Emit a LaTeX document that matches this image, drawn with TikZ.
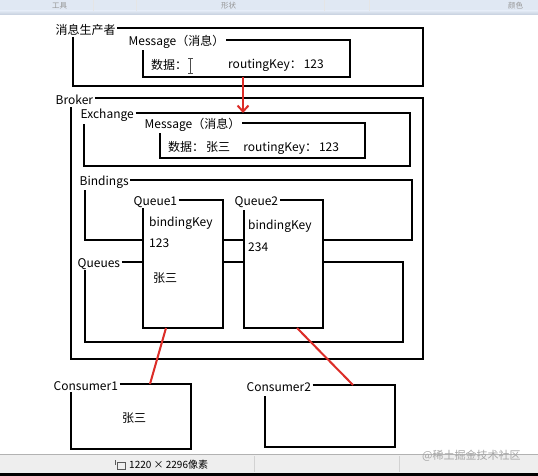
\documentclass[tikz,border=0pt]{standalone}
\usepackage{fontspec}
\setmainfont{Noto Sans CJK SC}
\usetikzlibrary{arrows.meta}
\definecolor{redline}{RGB}{220,45,40}
\definecolor{barblue}{RGB}{224,232,243}
\definecolor{baredge}{RGB}{196,206,220}
\definecolor{statusgray}{RGB}{238,238,238}
\definecolor{faint}{RGB}{150,150,150}
\newcommand\gapbox[8]{% name, label, label x, left, top, right, bottom, left line start
  \node[lbl] (#1) at (#3,#5+2) {#2};
  \coordinate (#1-tr) at (#6,#5);
  \coordinate (#1-br) at (#6,#7);
  \coordinate (#1-bl) at (#4,#7);
  \coordinate (#1-ls) at (#4,#8);
  \draw[frame] (#1.east |- #1-tr) -- (#1-tr) -- (#1-br) -- (#1-bl) -- (#1-ls);
}
\begin{document}
\begin{tikzpicture}[x=1pt,y=-1pt,
  frame/.style={line width=2.7pt},
  lbl/.style={anchor=west, inner sep=0pt, inner xsep=1.5pt, font=\fontsize{12}{14}\selectfont},
  txt/.style={anchor=west, inner sep=0pt, font=\fontsize{12}{14}\selectfont},
  link/.style={draw=redline, line width=2pt},
  ui/.style={anchor=west, inner sep=0pt, text=faint, font=\fontsize{7.5}{9}\selectfont}]
\useasboundingbox (0,0) rectangle (538,476);
\fill[white] (0,0) rectangle (538,476);

% toolbar strip (top)
\begin{scope}
\clip (0,0) rectangle (538,15);
\fill[barblue] (0,0) rectangle (538,12);
\shade[top color=barblue, bottom color=baredge] (0,11) rectangle (538,15);
\foreach \sx in {93,136,324,369} \draw[white!80!gray] (\sx,0) -- (\sx,11);
\end{scope}
\node[ui] (tb1) at (52,6) {工具};
\node[ui] (tb2) at (221,6) {形状};
\node[ui] (tb3) at (508,6) {颜色};

% producer
\gapbox{prod}{消息生产者}{54}{73}{28}{423}{86}{37}
\gapbox{msga}{Message（消息）}{127}{143}{40}{350}{77}{50}
\node[txt] (dataa) at (151,65) {数据：};
\draw[gray!60!black, line width=0.8pt] (190.5,58) -- (190.5,73) (188,58) -- (193,58) (188,73) -- (193,73);
\node[txt] (rka) at (228,65) {routingKey：\,123};

% broker
\gapbox{broker}{Broker}{54}{71}{98}{423}{359}{107}
\gapbox{exch}{Exchange}{79}{84}{113}{410}{166}{124}
\gapbox{msgb}{Message（消息）}{143}{160}{123}{365}{158}{133}
\node[txt] (datab) at (168,148) {数据：\,张三\hspace{1.1em}routingKey：\,123};
\gapbox{bind}{Bindings}{78}{85}{180}{412}{240}{190}
\gapbox{ques}{Queues}{76}{85}{262}{403}{342}{270}

% queue boxes
\fill[white] (143,200) rectangle (223,328);
\fill[white] (244,200) rectangle (323,328);
\gapbox{qa}{Queue1}{132}{143}{200}{223}{328}{208}
\node[txt] (qa1) at (149,223) {bindingKey};
\node[txt] (qa2) at (149,243) {123};
\node[txt] (qa3) at (153,278) {张三};
\gapbox{qb}{Queue2}{233}{244}{200}{323}{328}{210}
\node[txt] (qb1) at (248,226) {bindingKey};
\node[txt] (qb2) at (248,247) {234};

% consumers
\gapbox{cona}{Consumer1}{52}{71}{384}{191}{449}{392}
\node[txt] (cona1) at (122,418) {张三};
\gapbox{conb}{Consumer2}{245}{265}{385}{395}{447}{396}

% connectors
\coordinate (msgaout) at (243,77);
\coordinate (exchin) at (243,113);
\coordinate (qaout) at (166,328);
\coordinate (conain) at (150,384);
\coordinate (qbout) at (297,328);
\coordinate (conbin) at (353,385);
\draw[link, -{Straight Barb[length=6pt, width=11pt, line width=2pt]}] (msgaout) -- (exchin);
\draw[link] (qaout) -- (conain);
\draw[link] (qbout) -- (conbin);

% status bar (bottom)
\fill[statusgray] (0,454) rectangle (538,473);
\draw[gray!60] (0,454) -- (538,454);
\foreach \sx in {254,399} \draw[gray!35] (\sx,456) -- (\sx,472);
\draw[gray!70!black, line width=0.8pt] (117,462) rectangle (125,469) (115,460) -- (115,465);
\node[anchor=west, inner sep=0pt, font=\fontsize{10}{12}\selectfont] (size) at (129,465) {1220 × 2296像素};
\node[anchor=west, inner sep=0pt, text=gray!70, font=\fontsize{11}{13}\selectfont] (wm) at (422,456) {@稀土掘金技术社区};
\fill[black] (0,473) rectangle (538,476);
\end{tikzpicture}
\end{document}
